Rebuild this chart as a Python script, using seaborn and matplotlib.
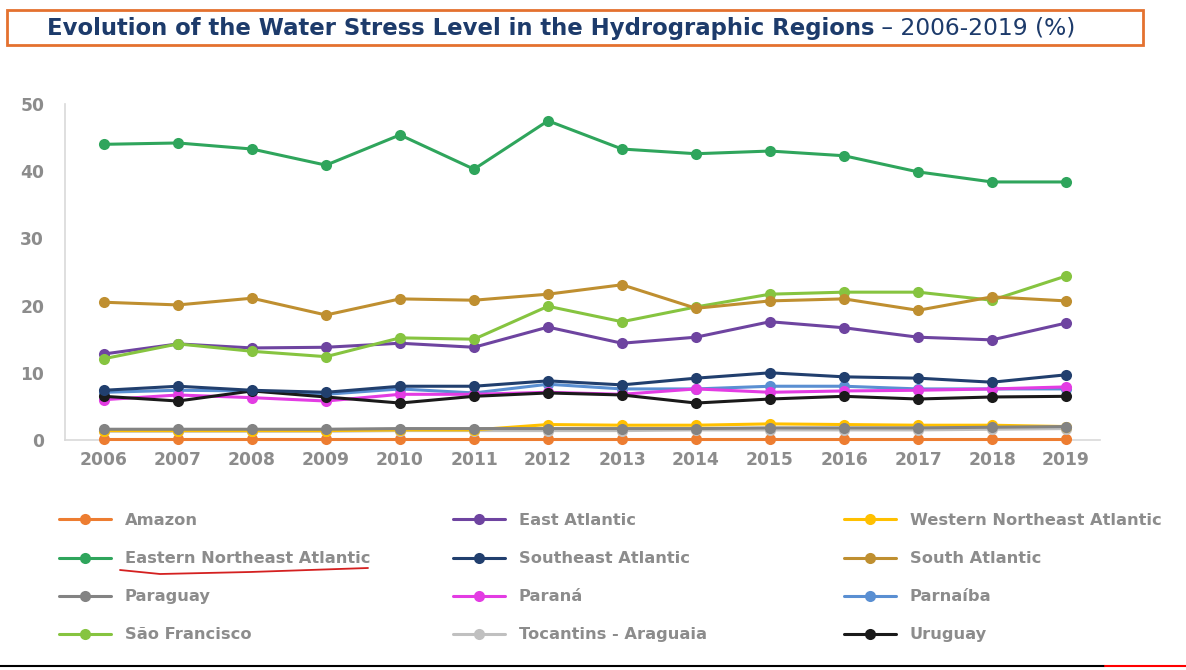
import numpy as np
import pandas as pd
import matplotlib
matplotlib.use("Agg")
import matplotlib.pyplot as plt
from matplotlib.lines import Line2D
from matplotlib.patches import Rectangle
import seaborn as sns

# ================= DADOS =================
anos = list(range(2006, 2020))

amazon = [0.1] * 14
east_atlantic = [12.8, 14.3, 13.7, 13.8, 14.4, 13.8, 16.8, 14.4, 15.3, 17.6, 16.7, 15.3, 14.9, 17.4]
western_ne_atlantic = [1.4, 1.4, 1.4, 1.4, 1.5, 1.5, 2.3, 2.2, 2.2, 2.4, 2.3, 2.2, 2.2, 2.0]
eastern_ne_atlantic = [44.0, 44.2, 43.3, 40.9, 45.4, 40.3, 47.5, 43.3, 42.6, 43.0, 42.3, 39.9, 38.4, 38.4]
southeast_atlantic = [7.4, 8.0, 7.4, 7.1, 8.0, 8.0, 8.8, 8.2, 9.2, 10.0, 9.4, 9.2, 8.6, 9.7]
south_atlantic = [20.5, 20.1, 21.1, 18.6, 21.0, 20.8, 21.7, 23.1, 19.6, 20.7, 21.0, 19.3, 21.3, 20.7]
paraguay = [1.6, 1.6, 1.6, 1.6, 1.7, 1.7, 1.7, 1.7, 1.7, 1.8, 1.8, 1.8, 1.9, 2.0]
parana = [6.0, 6.7, 6.3, 5.8, 6.8, 6.8, 7.1, 6.8, 7.6, 7.1, 7.3, 7.4, 7.6, 7.9]
parnaiba = [7.1, 7.4, 7.3, 6.8, 7.6, 7.0, 8.3, 7.6, 7.6, 8.0, 8.0, 7.6, 7.6, 7.6]
sao_francisco = [12.1, 14.3, 13.2, 12.4, 15.2, 15.0, 19.9, 17.6, 19.8, 21.7, 22.0, 22.0, 20.8, 24.4]
tocantins = [1.3, 1.3, 1.3, 1.3, 1.4, 1.4, 1.4, 1.4, 1.5, 1.5, 1.5, 1.5, 1.6, 1.7]
uruguay = [6.5, 5.8, 7.3, 6.4, 5.5, 6.5, 7.0, 6.7, 5.5, 6.1, 6.5, 6.1, 6.4, 6.5]

regioes = {
    "Amazon": amazon,
    "East Atlantic": east_atlantic,
    "Western Northeast Atlantic": western_ne_atlantic,
    "Eastern Northeast Atlantic": eastern_ne_atlantic,
    "Southeast Atlantic": southeast_atlantic,
    "South Atlantic": south_atlantic,
    "Paraguay": paraguay,
    "Paraná": parana,
    "Parnaíba": parnaiba,
    "São Francisco": sao_francisco,
    "Tocantins - Araguaia": tocantins,
    "Uruguay": uruguay,
}

cores = {
    "Amazon": "#ed7d31",
    "East Atlantic": "#6e44a0",
    "Western Northeast Atlantic": "#ffc000",
    "Eastern Northeast Atlantic": "#2fa55c",
    "Southeast Atlantic": "#213f6e",
    "South Atlantic": "#bf8f30",
    "Paraguay": "#838383",
    "Paraná": "#e33ce3",
    "Parnaíba": "#5a8fd2",
    "São Francisco": "#86c440",
    "Tocantins - Araguaia": "#c0c0c0",
    "Uruguay": "#1a1a1a",
}

# colunas da legenda (como no original)
colunas_legenda = [
    ["Amazon", "Eastern Northeast Atlantic", "Paraguay", "São Francisco"],
    ["East Atlantic", "Southeast Atlantic", "Paraná", "Tocantins - Araguaia"],
    ["Western Northeast Atlantic", "South Atlantic", "Parnaíba", "Uruguay"],
]

# ordem de desenho
ordem = ["Amazon", "Tocantins - Araguaia", "Western Northeast Atlantic", "Paraguay",
         "Parnaíba", "Paraná", "Uruguay", "Southeast Atlantic", "East Atlantic",
         "São Francisco", "South Atlantic", "Eastern Northeast Atlantic"]

df = pd.DataFrame([
    {"Ano": a, "Valor": v, "Regiao": r}
    for r, vals in regioes.items() for a, v in zip(anos, vals)
])

# ================= GRÁFICO =================
sns.set_theme(style="white")
plt.rcParams['font.family'] = ['DejaVu Sans']

W, H = 1186, 670
fig = plt.figure(figsize=(W / 100, H / 100), dpi=100)
ax = fig.add_axes([65 / W, 1 - 440 / H, (1100 - 65) / W, (440 - 104) / H])

sns.lineplot(data=df, x="Ano", y="Valor", hue="Regiao", hue_order=ordem,
             palette=cores, marker="o", markersize=8, markeredgewidth=0,
             linewidth=2.2, legend=False, ax=ax)
for ln in ax.get_lines():
    ln.set_clip_on(False)

ax.set_xlim(2006 - 39 / 74, 2019 + 34 / 74)
ax.set_ylim(0, 50)
ax.set_xticks(anos)
ax.set_yticks(range(0, 51, 10))
ax.set_xlabel("")
ax.set_ylabel("")
for s in ["top", "right"]:
    ax.spines[s].set_visible(False)
for s in ["left", "bottom"]:
    ax.spines[s].set_color("#d9d9d9")
    ax.spines[s].set_linewidth(1.2)
    ax.spines[s].set_zorder(0)
ax.tick_params(axis="both", length=0, colors="#8c8c8c", labelsize=12.3)
ax.tick_params(axis="y", pad=15)
ax.tick_params(axis="x", pad=8)
for lbl in ax.get_xticklabels() + ax.get_yticklabels():
    lbl.set_fontweight("bold")

# legendas em três colunas
posicoes_x = [51, 445, 836]
for col, x0 in zip(colunas_legenda, posicoes_x):
    handles = [Line2D([], [], color=cores[r], lw=2.2, marker="o", markersize=8,
                      markeredgewidth=0) for r in col]
    leg = fig.legend(handles, col, loc="upper left",
                     bbox_to_anchor=(x0 / W, 1 - 505 / H), frameon=False,
                     borderpad=0, handlelength=3.2, handletextpad=0.85,
                     labelspacing=1.42, prop={"weight": "bold", "size": 11.7})
    for t in leg.get_texts():
        t.set_color("#8c8c8c")

# título em caixa laranja
fig.patches.append(Rectangle((7 / W, 1 - 45 / H), (1143 - 7) / W, 35 / H,
                             transform=fig.transFigure, fill=False,
                             edgecolor="#e4712f", linewidth=2))
t1 = fig.text(47 / W, 1 - 28 / H,
              "Evolution of the Water Stress Level in the Hydrographic Regions",
              color="#1d3b6b", fontsize=16.4, fontweight="bold", va="center")
ax.annotate(" \u2013 2006-2019 (%)", xy=(1, 0.5), xycoords=t1, va="center",
            ha="left", color="#1d3b6b", fontsize=16.8, annotation_clip=False)

# sublinhado vermelho à mão
ux = np.array([120, 160, 250, 368])
uy = np.array([570, 574, 572, 568])
fig.add_artist(Line2D(ux / W, 1 - uy / H, transform=fig.transFigure,
                      color="#d42020", lw=1.3))

# borda inferior da captura
fig.add_artist(Line2D([0, 1105 / W], [1 - 666 / H] * 2, transform=fig.transFigure,
                      color="black", lw=1.5))
fig.add_artist(Line2D([1105 / W, 1], [1 - 666 / H] * 2, transform=fig.transFigure,
                      color="red", lw=1.5))

fig.savefig("out.png", dpi=100)
